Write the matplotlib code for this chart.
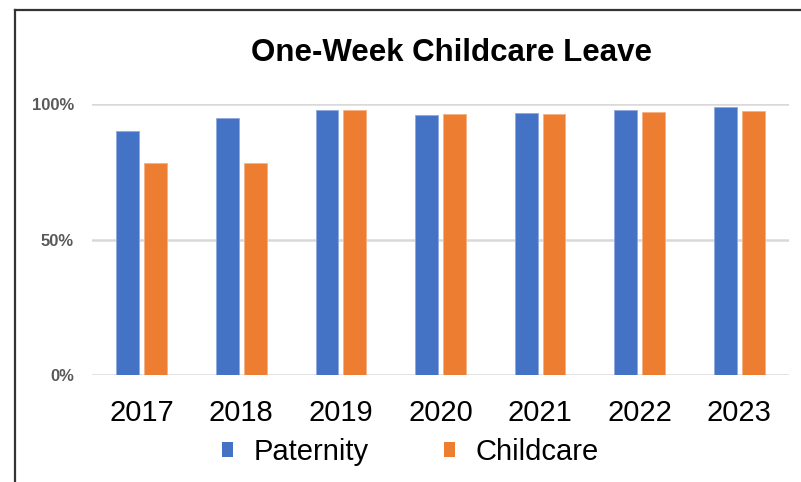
import matplotlib
matplotlib.use("Agg")
import matplotlib.pyplot as plt
import numpy as np
from matplotlib.patches import Patch
from matplotlib.lines import Line2D
from matplotlib.ticker import PercentFormatter

years = ["2017", "2018", "2019", "2020", "2021", "2022", "2023"]
paternity = [90, 95, 97.8, 96, 96.7, 97.8, 98.9]
childcare = [78.3, 78.3, 97.8, 96.3, 96.3, 97, 97.4]

blue = "#4472C4"
orange = "#ED7D31"

fig = plt.figure(figsize=(8.01, 4.82), dpi=100)
ax = fig.add_axes([0.1149, 0.2214, 0.870, 0.5629])

x = np.arange(len(years))
w = 0.23
ax.bar(x - 0.14, paternity, w, color=blue, edgecolor="#8fa9dc", linewidth=0.6, zorder=3)
ax.bar(x + 0.14, childcare, w, color=orange, edgecolor="#f4b183", linewidth=0.6, zorder=3)

ax.set_xlim(-0.5, 6.5)
ax.set_ylim(0, 100)
ax.set_yticks([0, 50, 100])
ax.yaxis.set_major_formatter(PercentFormatter(decimals=0))
ax.grid(axis="y", color="#d9d9d9", linewidth=1.8, zorder=0)
for s in ax.spines.values():
    s.set_visible(False)

ax.set_xticks(x)
ax.set_xticklabels(years, fontfamily="Liberation Sans", fontsize=21, color="black")
ax.tick_params(axis="x", length=0, pad=17)
ax.tick_params(axis="y", length=0, pad=13)
for t in ax.get_yticklabels():
    t.set_fontfamily("Liberation Sans")
    t.set_fontweight("bold")
    t.set_fontsize(12)
    t.set_color("#595959")

fig.text(451.5 / 801, 1 - 53 / 482, "One-Week Childcare Leave", ha="center", va="center",
         fontfamily="Liberation Sans", fontweight="bold", fontsize=22.5)

handles = [Patch(facecolor=blue, edgecolor="none"), Patch(facecolor=orange, edgecolor="none")]
fig.legend(handles, ["Paternity", "Childcare"], loc="center", bbox_to_anchor=(410.5 / 801, 30 / 482),
           ncol=2, frameon=False, prop={"family": "Liberation Sans", "size": 21},
           handlelength=0.38, handleheight=0.38, handletextpad=0.72, columnspacing=2.55)

# outer frame
fig.add_artist(Line2D([15 / 801, 15 / 801], [0, 1 - 10 / 482], transform=fig.transFigure,
                      color="#333333", linewidth=1.6))
fig.add_artist(Line2D([15 / 801, 1], [1 - 10 / 482, 1 - 10 / 482], transform=fig.transFigure,
                      color="#333333", linewidth=1.6))

fig.savefig("out.png", dpi=100)
